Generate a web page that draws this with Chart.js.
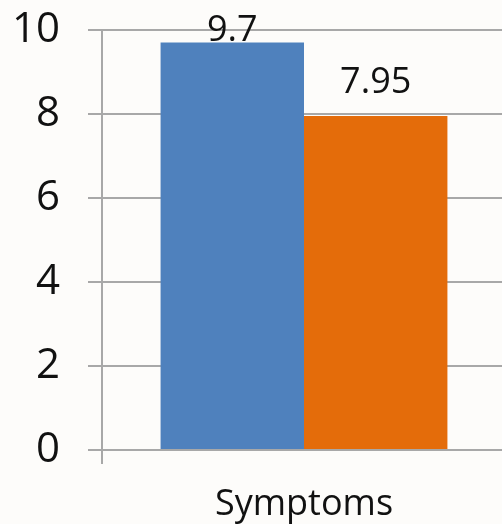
<!DOCTYPE html>
<html>
<head>
<meta charset="utf-8">
<script src="https://cdn.jsdelivr.net/npm/chart.js@4/dist/chart.umd.min.js"></script>
<style>
  html, body { margin: 0; padding: 0; background: #fdfcfa; overflow: hidden; }
  #wrap { width: 502px; height: 524px; overflow: hidden; }
</style>
</head>
<body>
<div id="wrap"><canvas id="chart" width="506" height="524"></canvas></div>
<script>
// Chart data
const categories = ['Symptoms'];
const seriesNames = ['Series 1', 'Series 2'];
const seriesA = [9.7];
const seriesB = [7.95];
const valueLabels = [['9.7'], ['7.95']];
const yTicks = [0, 2, 4, 6, 8, 10];

const FONT = "'Open Sans', 'Noto Sans', sans-serif";
const GRID = '#a8a8a8';

// Value labels above each bar, kept inside the plot area
const barLabels = {
  id: 'barLabels',
  afterDatasetsDraw(chart) {
    const ctx = chart.ctx;
    const top = chart.chartArea.top;
    ctx.save();
    ctx.font = '36px ' + FONT;
    ctx.fillStyle = '#111';
    ctx.textAlign = 'center';
    ctx.textBaseline = 'alphabetic';
    chart.data.datasets.forEach((ds, di) => {
      chart.getDatasetMeta(di).data.forEach((bar, i) => {
        const y = Math.max(bar.y - 23, top + 11);
        ctx.fillText(valueLabels[di][i], bar.x, y);
      });
    });
    ctx.restore();
  }
};

new Chart(document.getElementById('chart'), {
  type: 'bar',
  data: {
    labels: categories,
    datasets: [
      { label: seriesNames[0], data: seriesA, backgroundColor: '#4f81bd' },
      { label: seriesNames[1], data: seriesB, backgroundColor: '#e46c0a' }
    ]
  },
  options: {
    responsive: false,
    animation: false,
    devicePixelRatio: 1,
    layout: { padding: { top: 30, right: 0, left: 0, bottom: 0 } },
    datasets: { bar: { categoryPercentage: 0.71, barPercentage: 1.0 } },
    plugins: { legend: { display: false }, tooltip: { enabled: false } },
    scales: {
      x: {
        grid: { display: true, offset: true, drawOnChartArea: false, color: GRID, lineWidth: 2, tickLength: 14 },
        border: { display: false },
        ticks: { color: '#111', font: { family: FONT, size: 36 }, padding: 19 },
        afterFit(scale) { scale.height = 74; scale.paddingLeft = 0; scale.paddingRight = 0; }
      },
      y: {
        min: 0,
        max: 10,
        afterBuildTicks(scale) { scale.ticks = yTicks.map(v => ({ value: v })); },
        grid: { color: GRID, lineWidth: 2, tickLength: 14 },
        border: { display: true, color: GRID, width: 2 },
        ticks: { color: '#111', font: { family: FONT, size: 42 }, padding: 28 },
        afterFit(scale) { scale.width = 102; scale.paddingTop = 0; scale.paddingBottom = 0; }
      }
    }
  },
  plugins: [barLabels]
});
</script>
</body>
</html>
